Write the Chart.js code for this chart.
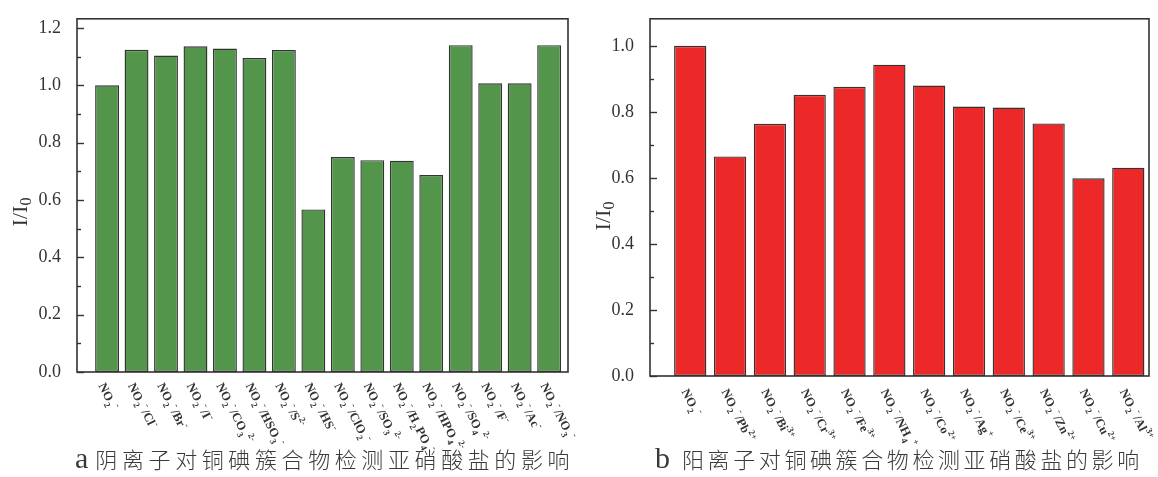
<!DOCTYPE html>
<html>
<head>
<meta charset="utf-8">
<script src="https://cdn.jsdelivr.net/npm/chart.js@4.4.1/dist/chart.umd.min.js"></script>
<style>
  body { margin: 0; background: #fff; width: 1158px; height: 477px; position: relative; overflow: hidden; }
  .box { position: absolute; top: 0; }
  .cap { position: absolute; top: 440px; white-space: nowrap; color: #3a3a3a; line-height: 36px; }
  .cap .lt { font-family: "Liberation Serif", serif; font-size: 30px; }
  .cap .cn { font-family: "Noto Sans CJK SC", sans-serif; font-size: 22px; font-weight: 300; }
</style>
</head>
<body>
<div class="box" style="left:0"><canvas id="anion" width="580" height="477"></canvas></div>
<div class="box" style="left:580px"><canvas id="cation" width="578" height="477"></canvas></div>
<div class="cap" style="left:75px"><span class="lt">a</span><span class="cn" style="margin-left:7px;letter-spacing:4.6px">阴离子对铜碘簇合物检测亚硝酸盐的影响</span></div>
<div class="cap" style="left:655px"><span class="lt">b</span><span class="cn" style="margin-left:12px;letter-spacing:3.6px">阳离子对铜碘簇合物检测亚硝酸盐的影响</span></div>
<script>
// _x / _{..} = subscript, ^x / ^{..} = superscript
var anionLabels = ['NO_2^-', 'NO_2^-/Cl^-', 'NO_2^-/Br^-', 'NO_2^-/I^-', 'NO_2^-/CO_3^{2-}',
    'NO_2^-/HSO_3^-', 'NO_2^-/S^{2-}', 'NO_2^-/HS^-', 'NO_2^-/ClO_2^-', 'NO_2^-/SO_3^{2-}',
    'NO_2^-/H_2PO_4^-', 'NO_2^-/HPO_4^{2-}', 'NO_2^-/SO_4^{2-}', 'NO_2^-/F^-', 'NO_2^-/Ac^-', 'NO_2^-/NO_3^-'];
var anionValues = [1.000, 1.124, 1.104, 1.136, 1.128, 1.095, 1.123, 0.567,
    0.750, 0.739, 0.737, 0.687, 1.140, 1.007, 1.007, 1.140];

var cationLabels = ['NO_2^-', 'NO_2^-/Pb^{2+}', 'NO_2^-/Bi^{3+}', 'NO_2^-/Cr^{3+}', 'NO_2^-/Fe^{3+}',
    'NO_2^-/NH_4^+', 'NO_2^-/Co^{2+}', 'NO_2^-/Ag^+', 'NO_2^-/Ce^{3+}', 'NO_2^-/Zn^{2+}',
    'NO_2^-/Cu^{2+}', 'NO_2^-/Al^{3+}'];
var cationValues = [1.000, 0.665, 0.764, 0.852, 0.876, 0.943, 0.880, 0.816, 0.813, 0.765, 0.599, 0.631];

var yTickFormat = function (v) { return v.toFixed(1); };

function parseRich(s) {
    var out = [], buf = '', i = 0;
    while (i < s.length) {
        var c = s[i];
        if (c === '_' || c === '^') {
            if (buf) { out.push({ t: buf, m: 0 }); buf = ''; }
            var t;
            if (s[i + 1] === '{') {
                var j = s.indexOf('}', i);
                t = s.slice(i + 2, j);
                i = j + 1;
            } else {
                t = s[i + 1];
                i += 2;
            }
            out.push({ t: t, m: c === '_' ? 1 : 2 });
        } else {
            buf += c;
            i++;
        }
    }
    if (buf) out.push({ t: buf, m: 0 });
    return out;
}

function drawRich(ctx, text, x, y, angle, size, weight) {
    var segs = parseRich(text);
    ctx.save();
    ctx.translate(x, y);
    ctx.rotate(angle);
    ctx.textAlign = 'left';
    ctx.textBaseline = 'middle';
    var cx = 0;
    segs.forEach(function (s) {
        var sz = s.m ? Math.round(size * 0.75) : size;
        var dy = s.m === 1 ? size * 0.38 : (s.m === 2 ? -size * 0.4 : 0);
        ctx.font = weight + ' ' + sz + 'px "Liberation Serif"';
        ctx.fillText(s.t, cx, dy);
        cx += ctx.measureText(s.t).width + (s.m ? 1.5 : 0.5);
    });
    ctx.restore();
}

var framePlugin = {
    id: 'frame',
    afterDatasetsDraw: function (chart, args, o) {
        var ctx = chart.ctx, a = chart.chartArea, y = chart.scales.y, x = chart.scales.x;
        ctx.save();
        ctx.strokeStyle = '#333';
        ctx.lineWidth = 1.6;
        ctx.strokeRect(a.left, a.top, a.right - a.left, a.bottom - a.top);
        // inward ticks on the left axis
        ctx.lineWidth = 1.4;
        for (var k = 0; k * 0.1 <= y.max + 1e-9; k++) {
            var py = Math.round(y.getPixelForValue(k * 0.1)) + 0.5;
            ctx.beginPath();
            ctx.moveTo(a.left, py);
            ctx.lineTo(a.left + (k % 2 === 0 ? 7 : 4), py);
            ctx.stroke();
        }
        // category labels
        ctx.fillStyle = '#333';
        o.labels.forEach(function (lab, i) {
            var px = x.getPixelForValue(i);
            drawRich(ctx, lab, px + o.dx, a.bottom + o.dy, o.angle * Math.PI / 180, 12.5, 'bold');
        });
        // y title I/I0
        ctx.save();
        ctx.translate(a.left + o.titleX, o.titleY);
        ctx.rotate(-Math.PI / 2);
        ctx.textBaseline = 'middle';
        ctx.font = '22px "Liberation Serif"';
        var w = ctx.measureText('I/I').width;
        var w0;
        ctx.font = '16px "Liberation Serif"';
        w0 = ctx.measureText('0').width;
        var sx = -(w + w0) / 2;
        ctx.font = '22px "Liberation Serif"';
        ctx.fillText('I/I', sx, 0);
        ctx.font = '16px "Liberation Serif"';
        ctx.fillText('0', sx + w, 6);
        ctx.restore();
        ctx.restore();
    }
};

function makeChart(id, labels, values, color, o) {
    var ctx = document.getElementById(id).getContext('2d');
    var points = values.map(function (v, i) { return { x: i, y: v }; });
    return new Chart(ctx, {
        type: 'bar',
        data: {
            datasets: [{
                data: points,
                backgroundColor: color,
                borderColor: '#333',
                borderWidth: 1.4,
                borderSkipped: false,
                categoryPercentage: 1,
                barPercentage: 0.81,
            }],
        },
        options: {
            responsive: false,
            animation: false,
            layout: { padding: { top: o.top, right: o.right, left: 0, bottom: 0 } },
            plugins: {
                legend: { display: false },
                tooltip: { enabled: false },
                frame: { labels: labels, dx: o.dx, dy: o.dy, angle: 63, titleX: o.titleX, titleY: o.titleY },
            },
            scales: {
                x: {
                    type: 'linear',
                    offset: false,
                    min: o.xmin,
                    max: o.xmax,
                    grid: { display: false, offset: false },
                    border: { display: false },
                    ticks: { display: false },
                    afterFit: function (s) { s.height = o.xh; },
                },
                y: {
                    min: 0,
                    max: o.ymax,
                    grid: { display: false },
                    border: { display: false },
                    ticks: {
                        stepSize: 0.2,
                        includeBounds: false,
                        padding: 8,
                        color: '#333',
                        font: { family: 'Liberation Serif', size: 18 },
                        callback: yTickFormat,
                    },
                    afterFit: function (s) { s.width = o.yw; },
                },
            },
        },
        plugins: [framePlugin],
    });
}

document.addEventListener('DOMContentLoaded', function () {
    makeChart('anion', anionLabels, anionValues, '#53964b', {
        top: 14, right: 12, yw: 77, xh: 105, xmin: -1.02, xmax: 15.64, ymax: 1.232,
        dx: -6, dy: 12, titleX: -56, titleY: 212,
    });
    makeChart('cation', cationLabels, cationValues, '#ec2828', {
        top: 16, right: 9, yw: 70, xh: 101, xmin: -1.01, xmax: 11.52, ymax: 1.082,
        dx: -6, dy: 14, titleX: -46, titleY: 216,
    });
});
</script>
</body>
</html>
